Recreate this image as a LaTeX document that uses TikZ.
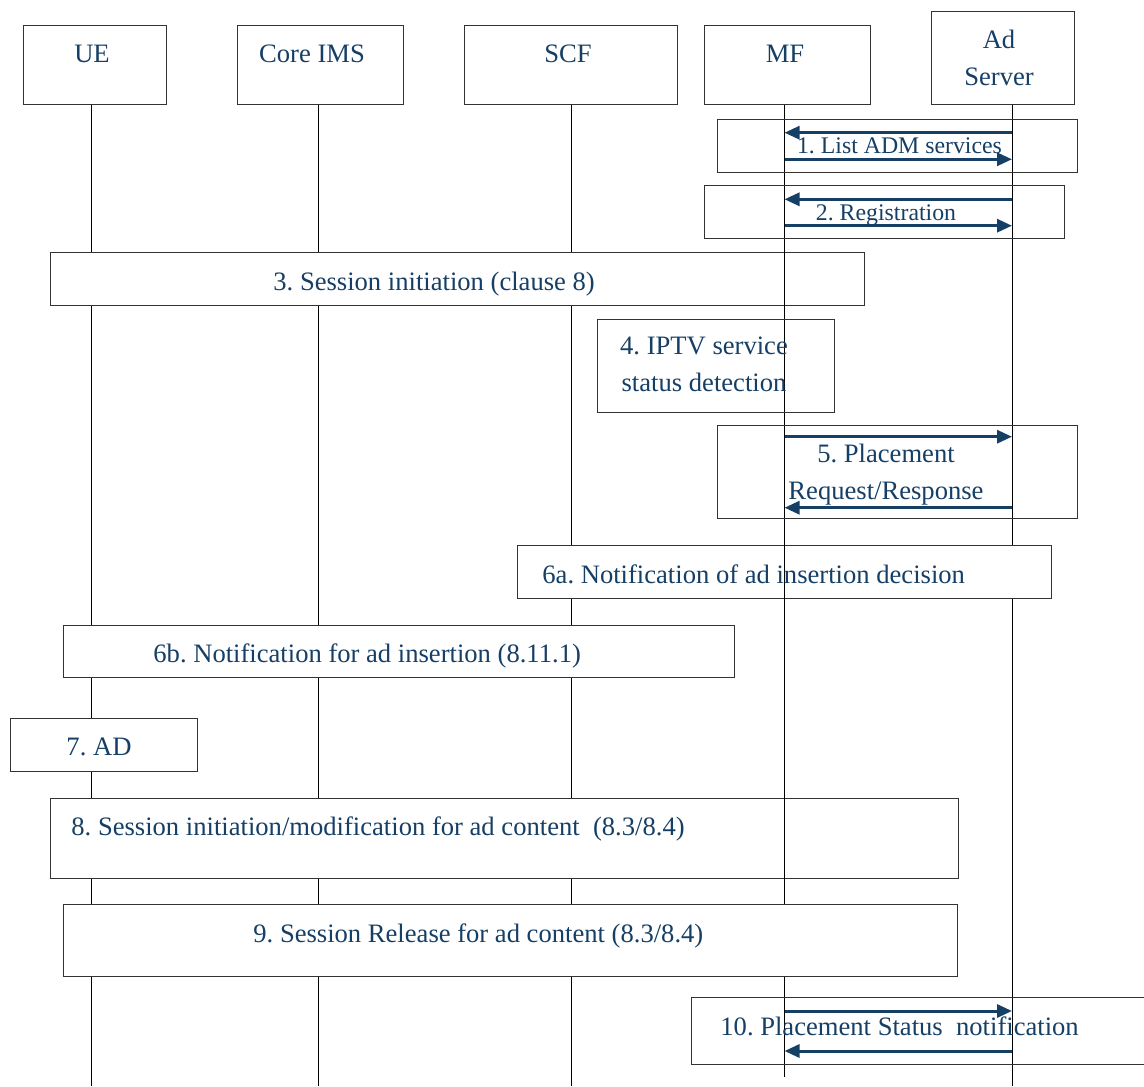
\documentclass[tikz,border=0pt]{standalone}
\usepackage{fontspec}
\setmainfont{Liberation Serif}
\frenchspacing
\usetikzlibrary{arrows.meta,fit}
\definecolor{msgblue}{HTML}{163F66}
\tikzset{
  hdrbox/.style={draw=black!80,line width=0.5pt,fill=white,inner sep=0pt},
  stepbox/.style={draw=black!80,line width=0.5pt,inner sep=0pt},
  stepfill/.style={stepbox,fill=white},
  steplabel/.style={text=msgblue,inner sep=0pt,align=center,
    font=\fontsize{13.3}{18.5}\selectfont},
  smalllabel/.style={steplabel,font=\fontsize{11.9}{15}\selectfont},
  lifeline/.style={draw=black,line width=0.5pt},
  msgarrow/.style={-{Triangle[length=7.5pt,width=6.5pt]},draw=msgblue,line width=1.5pt}
}

\begin{document}
\begin{tikzpicture}[x=0.5pt,y=-0.5pt]
\path[use as bounding box] (0,0) rectangle (1144,1086);
% entities
\node[hdrbox,fit={(23,26) (166,105)}] (ue) {};
\node[hdrbox,fit={(237,26) (403,105)}] (ims) {};
\node[hdrbox,fit={(464,26) (677,105)}] (scf) {};
\node[hdrbox,fit={(704,26) (870,105)}] (mf) {};
\node[hdrbox,fit={(931,12) (1074,105)}] (ads) {};
\node[steplabel,anchor=base] (uetext) at (92,63) {UE};
\node[steplabel,anchor=base] (imstext) at (312,63) {Core IMS};
\node[steplabel,anchor=base] (scftext) at (568,63) {SCF};
\node[steplabel,anchor=base] (mftext) at (785,63) {MF};
\node[steplabel] (adstext) at (999,58.3) {Ad\\Server};
% lifelines
\coordinate (ueEnd) at (91,1086);
\coordinate (imsEnd) at (318,1086);
\coordinate (scfEnd) at (571,1086);
\coordinate (mfEnd) at (784.5,1077);
\coordinate (adsEnd) at (1012,1086);
\draw[lifeline] (ue.south -| ueEnd) -- (ueEnd);
\draw[lifeline] (ims.south -| imsEnd) -- (imsEnd);
\draw[lifeline] (scf.south -| scfEnd) -- (scfEnd);
\draw[lifeline] (ads.south -| adsEnd) -- (adsEnd);
% boxes hiding the lifelines
\node[stepfill,fit={(50.5,252.3) (864,305)}] (b3) {};
\node[stepfill,fit={(517.3,545) (1051.7,598.3)}] (b6a) {};
\node[stepfill,fit={(63,625.7) (734.3,677.7)}] (b6b) {};
\node[stepfill,fit={(10,718.3) (197.7,771.3)}] (b7) {};
\node[stepfill,fit={(50.3,798.3) (958,878)}] (b8) {};
\draw[lifeline] (mf.south -| mfEnd) -- (mfEnd);
\node[stepfill,fit={(63.3,904.7) (957.7,976.7)}] (b9) {};
% open boxes
\node[stepbox,fit={(717.7,119.3) (1077.7,172)}] (b1) {};
\node[stepbox,fit={(704.7,185.7) (1064.3,238.7)}] (b2) {};
\node[stepbox,fit={(597,319) (834.7,412)}] (b4) {};
\node[stepbox,fit={(717.7,425) (1077.7,518.3)}] (b5) {};
\node[stepbox,fit={(691,997.7) (1160,1064.7)}] (b10) {};
% labels
\node[smalllabel,anchor=base] (t1) at (899.5,153) {1. List ADM services};
\node[smalllabel,anchor=base] (t2) at (886,220) {2. Registration};
\node[steplabel,anchor=base west] (t3) at (273,290) {3. Session initiation (clause 8)};
\node[steplabel] (t4) at (704,364.5) {4. IPTV service\\status detection};
\node[steplabel] (t5) at (886,474.3) {5. Placement\\Request/Response};
\node[steplabel,anchor=base west] (t6a) at (542,583) {6a. Notification of ad insertion decision};
\node[steplabel,anchor=base west] (t6b) at (153,662) {6b. Notification for ad insertion (8.11.1)};
\node[steplabel,anchor=base] (t7) at (99,755) {7. AD};
\node[steplabel,anchor=base west] (t8) at (71,835) {8. Session initiation/modification for ad content~ (8.3/8.4)};
\node[steplabel,anchor=base west] (t9) at (253,942) {9. Session Release for ad content (8.3/8.4)};
\node[steplabel,anchor=base west] (t10) at (720,1035) {10. Placement Status~ notification};
% messages
\draw[msgarrow] (adsEnd |- 0,132.7) -- (mfEnd |- 0,132.7);
\draw[msgarrow] (mfEnd |- 0,159.3) -- (adsEnd |- 0,159.3);
\draw[msgarrow] (adsEnd |- 0,199.3) -- (mfEnd |- 0,199.3);
\draw[msgarrow] (mfEnd |- 0,225.7) -- (adsEnd |- 0,225.7);
\draw[msgarrow] (mfEnd |- 0,436.7) -- (adsEnd |- 0,436.7);
\draw[msgarrow] (adsEnd |- 0,507.7) -- (mfEnd |- 0,507.7);
\draw[msgarrow] (mfEnd |- 0,1011) -- (adsEnd |- 0,1011);
\draw[msgarrow] (adsEnd |- 0,1051) -- (mfEnd |- 0,1051);
\end{tikzpicture}
\end{document}
